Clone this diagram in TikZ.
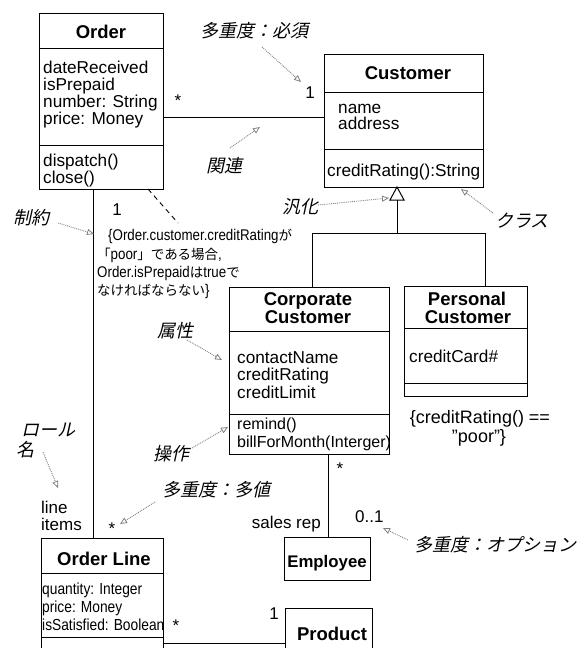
\documentclass[tikz,border=0pt]{standalone}
\usepackage{fontspec}
\setmainfont{Liberation Sans}
\newfontfamily\condfont[FakeStretch=0.86]{Liberation Sans}
\newfontfamily\jplabel[FakeSlant=0.22]{Noto Sans CJK JP}
\newfontfamily\jptext{Noto Sans CJK JP}
\usetikzlibrary{arrows.meta}

\tikzset{
  umlbox/.style={draw, line width=1pt, inner sep=0pt, outer sep=0pt, anchor=north west},
  part/.style={line width=1pt},
  link/.style={line width=1pt},
  title/.style={font=\bfseries\fontsize{18.5}{18}\selectfont, inner sep=0pt, anchor=base},
  member/.style={font=\fontsize{17.2}{17}\selectfont, inner sep=0pt, anchor=base west},
  op member/.style={font=\fontsize{16}{16}\selectfont, inner sep=0pt, anchor=base west},
  narrow member/.style={font=\condfont\fontsize{16}{16}\selectfont, inner sep=0pt, anchor=base west},
  endlabel/.style={font=\fontsize{17}{17}\selectfont, inner sep=0pt},
  callout/.style={font=\jplabel\fontsize{18}{18}\selectfont, inner sep=0pt},
  pointer/.style={draw=black!50, line width=0.9pt, densely dotted,
    -{Triangle[open,length=7pt,width=6pt,line width=0.8pt]}},
}

\begin{document}
\begin{tikzpicture}[x=1pt,y=-1pt]
\useasboundingbox (0,0) rectangle (588,648);

% ---------- class boxes ----------
\node[umlbox, minimum width=124pt, minimum height=176pt] (order) at (39,13) {};
\node[umlbox, minimum width=159pt, minimum height=133pt] (customer) at (324,54) {};
\node[umlbox, minimum width=160pt, minimum height=167pt] (corp) at (229,287) {};
\node[umlbox, minimum width=123pt, minimum height=110pt] (personal) at (404,286) {};
\node[umlbox, minimum width=86pt, minimum height=43pt] (employee) at (284,537) {};
\node[umlbox, minimum width=122pt, minimum height=130pt] (orderline) at (41,538) {};
\node[umlbox, minimum width=87pt, minimum height=60pt] (product) at (285,608) {};

% compartments
\draw[part] (39,48) -- (163,48);   \draw[part] (39,145) -- (163,145);
\draw[part] (324,92) -- (483,92);  \draw[part] (324,149) -- (483,149);
\draw[part] (229,331) -- (389,331); \draw[part] (229,414) -- (389,414);
\draw[part] (404,328) -- (527,328); \draw[part] (404,383) -- (527,383);
\draw[part] (41,573) -- (163,573); \draw[part] (41,637) -- (163,637);

% Order
\node[title] (order-name) at (101,38) {Order};
\foreach \t [count=\i] in {dateReceived, isPrepaid, number: String, price: Money}
  \node[member] (order-attr\i) at (43,{73+(\i-1)*17}) {\t};
\node[member] (order-op1) at (43,166) {dispatch()};
\node[member] (order-op2) at (43,183) {close()};

% Customer
\node[title] (customer-name) at (408,79) {Customer};
\node[member] (customer-attr1) at (338,113) {name};
\node[member] (customer-attr2) at (338,129) {address};
\node[member] (customer-op1) at (327,176) {creditRating():String};

% Corporate Customer
\node[title] (corp-name1) at (308,305) {Corporate};
\node[title] (corp-name2) at (308,323) {Customer};
\node[member] (corp-attr1) at (237,363) {contactName};
\node[member] (corp-attr2) at (237,380) {creditRating};
\node[member] (corp-attr3) at (237,398) {creditLimit};
\node[op member] (corp-op1) at (237,429) {remind()};
\node[op member] (corp-op2) at (237,447) {billForMonth(Interger)};

% Personal Customer
\node[title] (pers-name1) at (467,305) {Personal};
\node[title] (pers-name2) at (468,323) {Customer};
\node[member] (pers-attr1) at (409,362) {creditCard\#};
\node[member, anchor=base, font=\fontsize{18}{18}\selectfont] (pers-rule1) at (480,423) {\{creditRating() ==};
\node[member, anchor=base, font=\fontsize{18}{18}\selectfont] (pers-rule2) at (479,442) {\char34 poor\char34\}};

% Employee, Order Line, Product
\node[title, font=\bfseries\fontsize{16.8}{17}\selectfont] (employee-name) at (327,567) {Employee};
\node[title] (orderline-name) at (104,565) {Order Line};
\node[narrow member] (ol-attr1) at (42,594) {quantity: Integer};
\node[narrow member] (ol-attr2) at (42,612) {price: Money};
\node[narrow member] (ol-attr3) at (42,630) {isSatisfied: Boolean};
\node[title] (product-name) at (332,640) {Product};

% ---------- associations ----------
\draw[link] (order.east |- 0,117) -- (customer.west |- 0,117);
\draw[link] (order.south -| 93,0) -- (orderline.north -| 93,0);
\draw[link] (corp.south -| 328,0) -- (employee.north -| 328,0);
\draw[link] (orderline.east |- 0,643) -- (product.west |- 0,643);

% generalization
\coordinate (gentip) at (customer.south -| 397,0);
\draw[link, fill=white] (gentip) -- (404,200) -- (390,200) -- cycle;
\draw[link] (397,200) -- (397,233);
\draw[link] (312,233) -- (485,233);
\draw[link] (312,233) -- (corp.north -| 312,0);
\draw[link] (485,233) -- (personal.north -| 485,0);

% association ends
\node[endlabel] (m-order) at (178,101) {*};
\node[endlabel] (m-cust) at (310,93) {1};
\node[endlabel] (m-order1) at (117,210) {1};
\node[endlabel] (m-corp) at (340,469) {*};
\node[endlabel, anchor=base east] (role-rep) at (321,528) {sales rep};
\node[endlabel, anchor=base west] (m-emp) at (355,522) {0..1};
\node[endlabel, anchor=base west] (role-li1) at (41,513) {line};
\node[endlabel, anchor=base west] (role-li2) at (41,530) {items};
\node[endlabel] (m-ol) at (112,529) {*};
\node[endlabel] (m-olp) at (176,626) {*};
\node[endlabel] (m-prod) at (274,614) {1};

% constraint note
\coordinate (notetip) at (178,223);
\draw[line width=0.9pt, dash pattern=on 5pt off 4pt] (order.south -| 148,0) -- (notetip);
\node[narrow member, font=\condfont\fontsize{15.5}{16}\selectfont] (c1) at (108,240)
  {\{Order.customer.creditRating{\jptext\fontsize{13.5}{14}\selectfont が}};
\node[narrow member, font=\condfont\fontsize{15.5}{16}\selectfont] (c2) at (97,259)
  {{\jptext\fontsize{13.5}{14}\selectfont 「}poor{\jptext\fontsize{13.5}{14}\selectfont 」である場合}, };
\node[narrow member, font=\condfont\fontsize{15.5}{16}\selectfont] (c3) at (97,277)
  {Order.isPrepaid{\jptext\fontsize{13.5}{14}\selectfont は}true{\jptext\fontsize{13.5}{14}\selectfont で}};
\node[narrow member, font=\condfont\fontsize{15.5}{16}\selectfont] (c4) at (97,295)
  {{\jptext\fontsize{13.5}{14}\selectfont なければならない}\}};

% ---------- callouts ----------
\node[callout] (k-must) at (254,31) {多重度：必須};
\node[callout] (k-assoc) at (224,166) {関連};
\node[callout] (k-constr) at (31,218) {制約};
\node[callout] (k-gen) at (300,207) {汎化};
\node[callout] (k-class) at (522,221) {クラス};
\node[callout] (k-attr) at (175,331) {属性};
\node[callout, anchor=west] (k-role1) at (21,430) {ロール};
\node[callout, anchor=west] (k-role2) at (16,450) {名};
\node[callout] (k-op) at (171,454) {操作};
\node[callout] (k-many) at (216,490) {多重度：多値};
\node[callout] (k-opt) at (495,545) {多重度：オプション};

\coordinate (p1a) at (262,47);  \coordinate (p1b) at (301,82);
\coordinate (p2a) at (230,148); \coordinate (p2b) at (260,127);
\coordinate (p3a) at (58,223);  \coordinate (p3b) at (94,234);
\coordinate (p4a) at (187,340); \coordinate (p4b) at (222,360);
\coordinate (p5a) at (318,205); \coordinate (p5b) at (389,198);
\coordinate (p6a) at (493,213); \coordinate (p6b) at (461,189);
\coordinate (p7a) at (43,452);  \coordinate (p7b) at (58,488);
\coordinate (p8a) at (155,502); \coordinate (p8b) at (120,524);
\coordinate (p9a) at (192,448); \coordinate (p9b) at (228,427);
\coordinate (p10a) at (408,540); \coordinate (p10b) at (383,528);
\foreach \k in {1,...,10}
  \draw[pointer] (p\k a) -- (p\k b);
\end{tikzpicture}
\end{document}
